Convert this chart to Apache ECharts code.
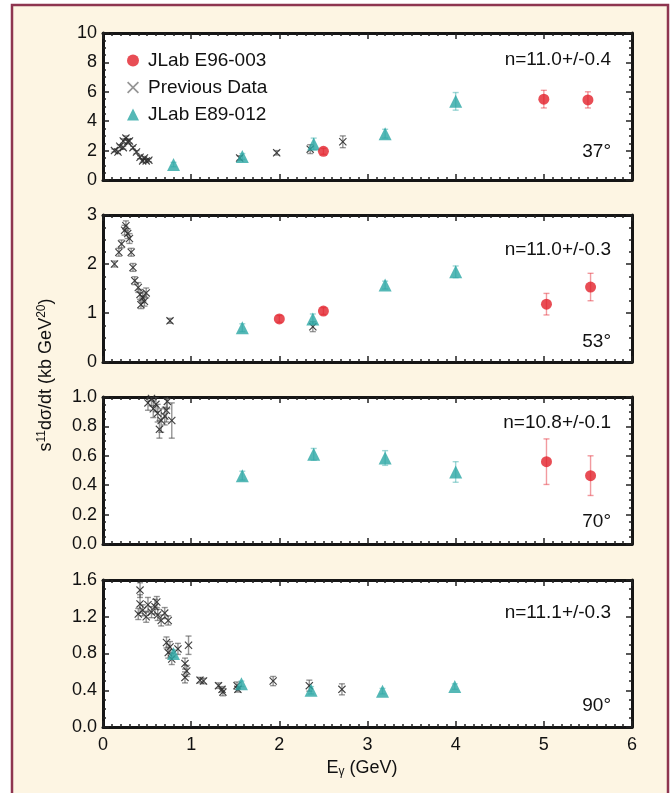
<!DOCTYPE html>
<html>
<head>
<meta charset="utf-8">
<script src="https://cdn.jsdelivr.net/npm/echarts@6/dist/echarts.min.js"></script>
<style>
  html, body { margin: 0; padding: 0; background: #ffffff; }
  #chart { width: 670px; height: 793px; }
</style>
</head>
<body>
<div id="chart"></div>
<script>
// x ticks (photon energy, GeV)
const energyTicks = [0, 1, 2, 3, 4, 5, 6];

// each point: [E (GeV), value, error]
// 37 deg
const red37 = [[2.5, 1.95, 0.2], [5.0, 5.5, 0.6], [5.5, 5.45, 0.55]];
const teal37 = [[0.8, 1.05, 0.15], [1.58, 1.6, 0.2], [2.39, 2.45, 0.4], [3.2, 3.15, 0.3], [4.0, 5.35, 0.6]];
const prev37 = [[0.13, 2.0, 0.1], [0.17, 1.9, 0.1], [0.19, 2.3, 0.1], [0.23, 2.65, 0.15], [0.23, 2.2, 0.1],
  [0.26, 2.85, 0.15], [0.28, 2.6, 0.15], [0.3, 2.65, 0.15], [0.34, 2.2, 0.1], [0.38, 1.9, 0.1],
  [0.42, 1.55, 0.1], [0.45, 1.3, 0.1], [0.47, 1.5, 0.1], [0.49, 1.3, 0.1], [0.52, 1.35, 0.1],
  [1.55, 1.5, 0.15], [1.97, 1.85, 0.15], [2.35, 2.1, 0.3], [2.72, 2.6, 0.4]];

// 53 deg
const red53 = [[2.0, 0.88, 0.07], [2.5, 1.04, 0.07], [5.03, 1.18, 0.22], [5.53, 1.53, 0.28]];
const teal53 = [[1.58, 0.7, 0.08], [2.38, 0.88, 0.1], [3.2, 1.57, 0.08], [4.0, 1.84, 0.12]];
const prev53 = [[0.13, 2.0, 0.06], [0.18, 2.24, 0.08], [0.21, 2.41, 0.08], [0.245, 2.69, 0.1], [0.26, 2.78, 0.1],
  [0.28, 2.62, 0.1], [0.3, 2.52, 0.1], [0.32, 2.24, 0.08], [0.34, 1.93, 0.08], [0.36, 1.66, 0.08],
  [0.4, 1.52, 0.1], [0.42, 1.38, 0.1], [0.43, 1.17, 0.08], [0.45, 1.31, 0.1], [0.47, 1.24, 0.1],
  [0.49, 1.41, 0.1], [0.76, 0.84, 0.05], [2.38, 0.72, 0.1]];

// 70 deg
const red70 = [[5.03, 0.56, 0.155], [5.53, 0.465, 0.135]];
const teal70 = [[1.58, 0.465, 0.03], [2.39, 0.61, 0.04], [3.2, 0.585, 0.05], [4.0, 0.49, 0.07]];
const prev70 = [[0.51, 0.96, 0.05], [0.55, 0.99, 0.05], [0.57, 0.92, 0.06], [0.6, 0.95, 0.05], [0.62, 0.89, 0.06],
  [0.64, 0.78, 0.06], [0.66, 0.84, 0.08], [0.7, 0.87, 0.06], [0.72, 0.91, 0.08], [0.73, 0.97, 0.05],
  [0.78, 0.84, 0.12]];

// 90 deg
const red90 = [];
const teal90 = [[0.8, 0.8, 0.04], [1.57, 0.47, 0.03], [2.36, 0.4, 0.04], [3.17, 0.39, 0.03], [3.99, 0.44, 0.03]];
const prev90 = [[0.42, 1.49, 0.08], [0.42, 1.34, 0.1], [0.4, 1.23, 0.06], [0.45, 1.27, 0.06], [0.51, 1.33, 0.08],
  [0.49, 1.2, 0.06], [0.55, 1.25, 0.06], [0.59, 1.31, 0.08], [0.61, 1.36, 0.06], [0.62, 1.22, 0.06],
  [0.66, 1.16, 0.06], [0.7, 1.24, 0.06], [0.74, 1.16, 0.05], [0.72, 0.92, 0.06], [0.76, 0.87, 0.06],
  [0.74, 0.81, 0.06], [0.78, 0.74, 0.06], [0.85, 0.85, 0.06], [0.97, 0.89, 0.1], [0.93, 0.69, 0.06],
  [0.95, 0.61, 0.06], [0.93, 0.54, 0.06], [1.1, 0.51, 0.03], [1.14, 0.5, 0.03], [1.31, 0.45, 0.03],
  [1.35, 0.41, 0.03], [1.36, 0.38, 0.04], [1.52, 0.45, 0.04], [1.53, 0.41, 0.03], [1.93, 0.5, 0.05],
  [2.34, 0.45, 0.06], [2.71, 0.41, 0.06]];

// y axes of the four panels
const yMax = [10, 3, 1.0, 1.6];
const yStep = [2, 1, 0.2, 0.4];
const fitLabels = ['n=11.0+/-0.4', 'n=11.0+/-0.3', 'n=10.8+/-0.1', 'n=11.1+/-0.3'];
const angleLabels = ['37°', '53°', '70°', '90°'];

const panelRed = [red37, red53, red70, red90];
const panelTeal = [teal37, teal53, teal70, teal90];
const panelPrev = [prev37, prev53, prev70, prev90];

const gridTops = [33, 215, 397, 580];
const gridH = 147;
const fitOffset = [27, 35, 26, 33];
const angleOffset = [28, 20, 22, 21];

const RED = '#e2202a';
const TEAL = '#2aa6a4';
const PREV = '#2e2e2e';
const FONT = '"Liberation Sans", Arial, sans-serif';
const crossPath = 'path://M1,0L5,4L9,0L10,1L6,5L10,9L9,10L5,6L1,10L0,9L4,5L0,1Z';

const chart = echarts.init(document.getElementById('chart'), null, { renderer: 'canvas' });

function errorBars(data, color, idx) {
  return {
    type: 'custom',
    silent: true,
    clip: true,
    xAxisIndex: idx * 2,
    yAxisIndex: idx * 2,
    encode: { x: 0, y: [1, 2] },
    data: data.map(d => [d[0], d[1] - d[2], d[1] + d[2]]),
    renderItem: function (params, api) {
      const lo = api.coord([api.value(0), api.value(1)]);
      const hi = api.coord([api.value(0), api.value(2)]);
      const c = 3;
      const st = { stroke: color, lineWidth: 1.4 };
      return {
        type: 'group',
        children: [
          { type: 'line', shape: { x1: lo[0], y1: lo[1], x2: hi[0], y2: hi[1] }, style: st },
          { type: 'line', shape: { x1: lo[0] - c, y1: lo[1], x2: lo[0] + c, y2: lo[1] }, style: st },
          { type: 'line', shape: { x1: hi[0] - c, y1: hi[1], x2: hi[0] + c, y2: hi[1] }, style: st }
        ]
      };
    }
  };
}

const grids = [], xAxes = [], yAxes = [], series = [], graphics = [];

const axisLine = { onZero: false, lineStyle: { color: '#151515', width: 3 } };
const tickStyle = { color: '#222', width: 1.5 };

for (let i = 0; i < 4; i++) {
  grids.push({
    left: 103, right: 38, top: gridTops[i], height: gridH,
    show: true, backgroundColor: '#ffffff', borderWidth: 0
  });
  const showX = i === 3;
  [['bottom', showX], ['top', false]].forEach(([pos, lab]) => {
    xAxes.push({
      type: 'value', gridIndex: i, position: pos,
      min: energyTicks[0], max: energyTicks[energyTicks.length - 1], interval: 1,
      axisLine: axisLine,
      axisTick: { inside: true, length: 6, lineStyle: tickStyle },
      minorTick: { show: true, splitNumber: 10, length: 3, lineStyle: tickStyle },
      splitLine: { show: false },
      axisLabel: { show: lab, color: '#111', fontSize: 18, fontFamily: FONT, margin: 9 }
    });
  });
  [['left', true], ['right', false]].forEach(([pos, lab]) => {
    yAxes.push({
      type: 'value', gridIndex: i, position: pos,
      min: 0, max: yMax[i], interval: yStep[i],
      axisLine: axisLine,
      axisTick: { inside: true, length: 6, lineStyle: tickStyle },
      minorTick: { show: true, splitNumber: 4, length: 3, lineStyle: tickStyle },
      splitLine: { show: false },
      axisLabel: {
        show: lab, color: '#111', fontSize: 18, fontFamily: FONT, margin: 6,
        formatter: v => (i >= 2 ? v.toFixed(1) : String(v))
      }
    });
  });

  series.push(errorBars(panelPrev[i], 'rgba(80,80,80,0.6)', i));
  series.push(errorBars(panelTeal[i], 'rgba(42,166,164,0.45)', i));
  series.push(errorBars(panelRed[i], 'rgba(226,32,42,0.45)', i));

  series.push({
    name: 'Previous Data', type: 'scatter', xAxisIndex: i * 2, yAxisIndex: i * 2,
    symbol: crossPath, symbolSize: 8, clip: true,
    itemStyle: { color: PREV, opacity: 0.9 },
    data: panelPrev[i].map(d => [d[0], d[1]])
  });
  series.push({
    name: 'JLab E89-012', type: 'scatter', xAxisIndex: i * 2, yAxisIndex: i * 2,
    symbol: 'triangle', symbolSize: 13, clip: true,
    itemStyle: { color: TEAL },
    data: panelTeal[i].map(d => [d[0], d[1]])
  });
  series.push({
    name: 'JLab E96-003', type: 'scatter', xAxisIndex: i * 2, yAxisIndex: i * 2,
    symbol: 'circle', symbolSize: 11, clip: true,
    itemStyle: { color: RED },
    data: panelRed[i].map(d => [d[0], d[1]])
  });

  graphics.push({
    type: 'text', x: 611, y: gridTops[i] + fitOffset[i], z: 10,
    style: { text: fitLabels[i], font: '19px ' + FONT, fill: '#111', textAlign: 'right', textVerticalAlign: 'middle' }
  });
  graphics.push({
    type: 'text', x: 611, y: gridTops[i] + gridH - angleOffset[i], z: 10,
    style: { text: angleLabels[i], font: '19px ' + FONT, fill: '#111', textAlign: 'right', textVerticalAlign: 'middle' }
  });
}

// frame of the figure
graphics.unshift({
  type: 'rect', z: -10, silent: true,
  shape: { x: 12, y: 5, width: 656, height: 800 },
  style: { fill: '#fdf5e3', stroke: '#8e3550', lineWidth: 2.5 }
});

// axis titles
graphics.push({
  type: 'text', x: 46, y: 375, rotation: Math.PI / 2, z: 10,
  style: {
    text: 's{sup|11}dσ/dt (kb GeV{sup|20})',
    font: '18px ' + FONT, fill: '#111', textAlign: 'center', textVerticalAlign: 'middle',
    rich: { sup: { fontSize: 12, fontFamily: FONT, verticalAlign: 'top', padding: [0, 0, 8, 0] } }
  }
});
graphics.push({
  type: 'text', x: 362, y: 768, z: 10,
  style: {
    text: 'E{sub|γ} (GeV)',
    font: '18px ' + FONT, fill: '#111', textAlign: 'center', textVerticalAlign: 'middle',
    rich: { sub: { fontSize: 12, fontFamily: FONT, padding: [8, 0, 0, 0] } }
  }
});

chart.setOption({
  backgroundColor: 'transparent',
  animation: false,
  grid: grids,
  xAxis: xAxes,
  yAxis: yAxes,
  legend: {
    data: [
      { name: 'JLab E96-003', icon: 'circle' },
      { name: 'Previous Data', icon: crossPath, itemStyle: { color: '#8a8a8a' } },
      { name: 'JLab E89-012', icon: 'triangle' }
    ],
    orient: 'vertical', left: 122, top: 46,
    itemWidth: 12, itemHeight: 12, itemGap: 8,
    selectedMode: false,
    textStyle: { fontSize: 19, fontFamily: FONT, color: '#111', padding: [0, 0, 0, 4] }
  },
  series: series,
  graphic: graphics
});
</script>
</body>
</html>
